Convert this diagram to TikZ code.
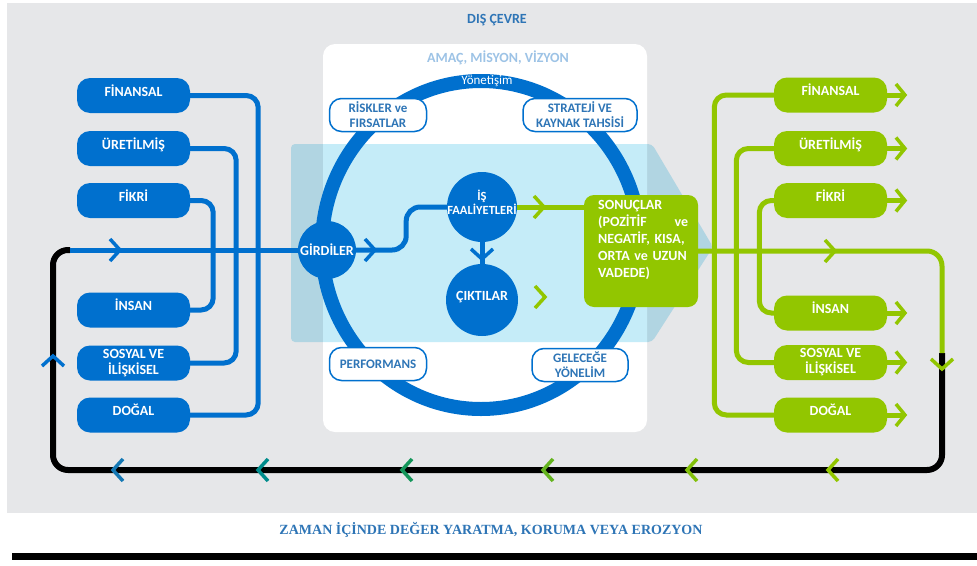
\documentclass[tikz,border=0pt]{standalone}
\usepackage{fontspec}
\setmainfont{Carlito}
\newfontfamily\titlefont{Liberation Serif}
\usepackage{tikz}
\usetikzlibrary{arrows.meta}
\definecolor{irblue}{RGB}{0,112,206}
\definecolor{irgreen}{RGB}{146,198,0}
\definecolor{irtext}{RGB}{46,117,182}
\definecolor{irlight}{RGB}{157,195,230}
\definecolor{irgray}{RGB}{230,231,233}
\definecolor{irsky}{RGB}{197,236,248}
\definecolor{chevA}{RGB}{20,120,180}
\definecolor{chevB}{RGB}{0,140,140}
\definecolor{chevC}{RGB}{20,150,90}
\definecolor{chevD}{RGB}{100,180,30}
\definecolor{chevE}{RGB}{130,192,10}
\definecolor{chevF}{RGB}{146,198,0}
\tikzstyle{capleft}=[rectangle, rounded corners=13pt, fill=irblue, text=white, font=\bfseries\fontsize{14}{16}\selectfont, minimum width=113pt, minimum height=35pt, align=center, inner sep=0pt]
\tikzstyle{capright}=[capleft, fill=irgreen]
\tikzstyle{oneline}=[text height=8pt, text depth=7pt]
\tikzstyle{tag}=[rectangle, rounded corners=12pt, fill=white, draw=irblue, line width=1.5pt, text=irtext, font=\bfseries\fontsize{13}{15}\selectfont, minimum height=33pt, align=center, inner sep=0pt]
\tikzstyle{disc}=[circle, fill=irblue, text=white, font=\bfseries\fontsize{14}{16}\selectfont, inner sep=0pt]
\tikzstyle{sonucbox}=[rectangle, rounded corners=10pt, fill=irgreen, minimum width=114pt, minimum height=112pt]
\tikzstyle{captext}=[text=white, font=\bfseries\fontsize{14}{17}\selectfont, inner sep=0pt]
\tikzstyle{heading}=[font=\bfseries\fontsize{14}{16}\selectfont, inner sep=0pt]
\tikzstyle{bline}=[draw=irblue, line width=5pt]
\tikzstyle{gline}=[draw=irgreen, line width=5pt]
\tikzstyle{kline}=[draw=black, line width=6pt]
\tikzstyle{outtip}=[-{Straight Barb[length=9pt,width=22pt,line width=3.5pt]}]
\tikzset{chev/.pic={\draw[line width=3.5pt] (-5,-11) -- (5,0) -- (-5,11);}}

\begin{document}
\begin{tikzpicture}[x=1pt, y=-1pt]
		   \useasboundingbox (0,0) rectangle (977,565);
		   \fill[white] (0,0) rectangle (977,565);
		   \fill[irgray] (7,3) rectangle (977,513);
		   \fill[white, rounded corners=12pt] (323,44) rectangle (647,432);
		   \begin{scope}[blend mode=multiply]
			   \fill[irsky, rounded corners=4pt] (291,144) -- (652,144) -- (713,247) -- (652,342) -- (291,342) -- cycle;
		   \end{scope}
		   \draw[irblue, line width=14pt] (481,245) ellipse [x radius=159pt, y radius=164pt];
		   \fill[black] (12,553) rectangle (977,560);

		   \begin{scope}
			   \node[heading, text=irtext] (dis) at (497,20) {DIŞ ÇEVRE};
			   \node[heading, text=irlight] (amac) at (498,58) {AMAÇ, MİSYON, VİZYON};
			   \node[text=white, font=\fontsize{13}{15}\selectfont, inner sep=0pt] (yonet) at (487,81) {Yönetişim};
			   \node[font=\titlefont\bfseries\fontsize{14}{16}\selectfont, text=irtext, inner sep=0pt] (zaman) at (491,530) {ZAMAN İÇİNDE DEĞER YARATMA, KORUMA VEYA EROZYON};

			   \node[capleft, oneline] (finL) at (133.5,95.5) {FİNANSAL};
			   \node[capleft, oneline] (uretL) at (133.5,148.5) {ÜRETİLMİŞ};
			   \node[capleft, oneline] (fikriL) at (133.5,200.5) {FİKRİ};
			   \node[capleft, oneline] (insanL) at (133.5,310) {İNSAN};
			   \node[capleft] (sosyalL) at (133.5,363) {SOSYAL VE\\İLİŞKİSEL};
			   \node[capleft, oneline] (dogalL) at (133.5,415) {DOĞAL};

			   \node[capright, oneline] (finR) at (830.5,95) {FİNANSAL};
			   \node[capright, oneline] (uretR) at (830.5,148.5) {ÜRETİLMİŞ};
			   \node[capright, oneline] (fikriR) at (830.5,200.5) {FİKRİ};
			   \node[capright, oneline] (insanR) at (830.5,313) {İNSAN};
			   \node[capright] (sosyalR) at (830.5,362.5) {SOSYAL VE\\İLİŞKİSEL};
			   \node[capright, oneline] (dogalR) at (830.5,415) {DOĞAL};

			   \node[tag, minimum width=97pt] (riskler) at (378,115) {RİSKLER ve\\FIRSATLAR};
			   \node[tag, minimum width=114pt] (strateji) at (580,115) {STRATEJİ VE\\KAYNAK TAHSİSİ};
			   \node[tag, minimum width=97pt] (perf) at (378,364) {PERFORMANS};
			   \node[tag, minimum width=96pt] (gelecek) at (580,365) {GELECEĞE\\YÖNELİM};

			   \node[disc, minimum size=58pt] (girdi) at (327,250) {GİRDİLER};
			   \node[disc, minimum size=70pt, label={[text=white, font=\bfseries\fontsize{12.5}{14}\selectfont, align=center, yshift=5pt]center:İŞ\\FAALİYETLERİ}] (is) at (482,207) {};
			   \node[disc, oneline, minimum size=72pt] (cikti) at (482,300) {ÇIKTILAR};

			   \node[sonucbox] (sonuc) at (641,251) {};
			   \node[captext, anchor=north west, text width=90pt, align=left] (sonuctxt) at (598,200) {SONUÇLAR\\(POZİTİF\hfill ve\\NEGATİF,~KISA,\\ORTA~ve~UZUN\\VADEDE)};

			   \coordinate (loopL) at (70,250);
			   \coordinate (loopR) at (942,353);
		   \end{scope}
		   \begin{scope}
			   \draw[bline, rounded corners=12pt] (finL.east) -- ++(68,0) |- (dogalL.east);
			   \draw[bline, rounded corners=12pt] (uretL.east) -- ++(46,0) |- (sosyalL.east);
			   \draw[bline, rounded corners=12pt] (fikriL.east) -- ++(23,0) |- (insanL.east);

			   \draw[kline, rounded corners=15pt] (loopR) -- (942,470) -- (53,470) -- (53,250) -- (loopL);
			   \draw[bline] (loopL) -- (girdi);
			   \draw[bline, rounded corners=14pt] (girdi.east) -- ++(50,0) |- (is.west);
			   \draw[bline] (is) -- (cikti);
			   \draw[gline] (is.east) -- (is.east -| sonuc.west);
			   \draw[gline, rounded corners=15pt] (sonuc.east) -| (loopR);

			   \draw[gline, rounded corners=12pt] (finR.west) -- ++(-59.5,0) |- (dogalR.west);
			   \draw[gline, rounded corners=12pt] (uretR.west) -- ++(-37.5,0) |- (sosyalR.west);
			   \draw[gline, rounded corners=12pt] (fikriR.west) -- ++(-14.5,0) |- (insanR.west);

			   \foreach \n in {finR,uretR,fikriR,insanR,sosyalR,dogalR}
				   \draw[gline, outtip] (\n.east) -- ++(20,0);

			   \pic[irblue] at (115,250) {chev};
			   \pic[irblue] at (370,250) {chev};
			   \pic[irblue, rotate=-90] at (482,254) {chev};
			   \pic[irgreen] at (539,207) {chev};
			   \pic[irgreen] at (540,297) {chev};
			   \pic[irgreen] at (830,251) {chev};
			   \pic[irgreen, rotate=-90] at (942,364) {chev};
			   \pic[irblue, rotate=90] at (53,361) {chev};
			   \foreach \x/\c in {118/chevA,263/chevB,407/chevC,548/chevD,692/chevE,833/chevF}
				   \pic[color=\c, rotate=180] at (\x,470) {chev};
		   \end{scope}
\end{tikzpicture}
\end{document}
